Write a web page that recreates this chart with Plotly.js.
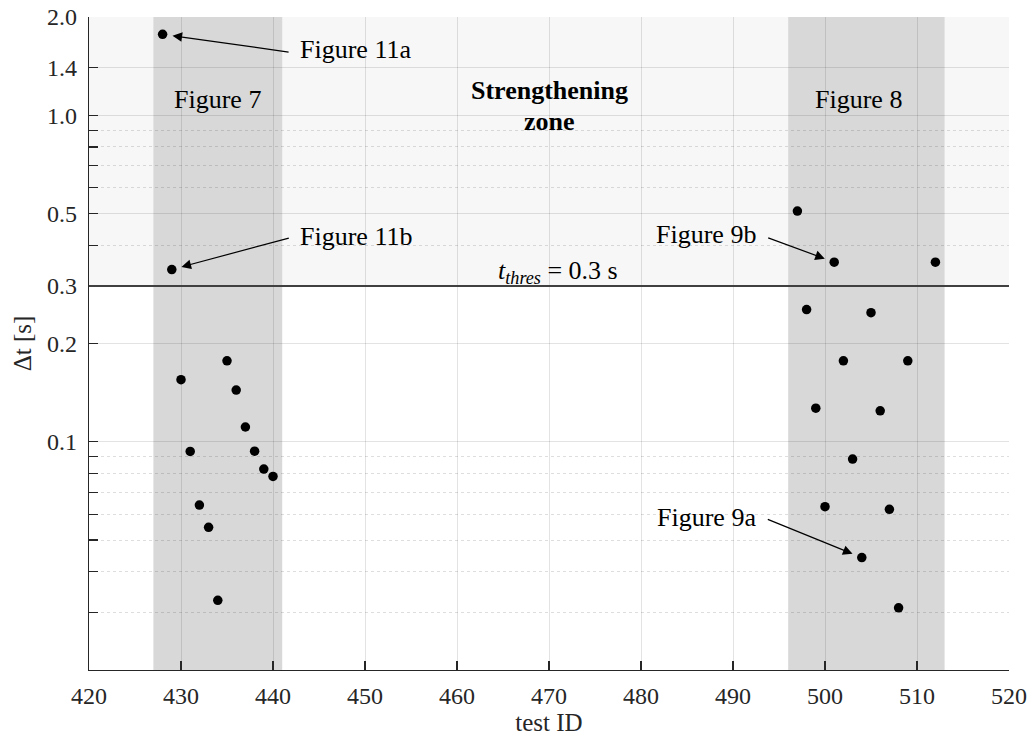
<!DOCTYPE html>
<html>
<head>
<meta charset="utf-8">
<script src="https://cdn.plot.ly/plotly-3.0.1.min.js"></script>
<style>html,body{margin:0;padding:0;background:#fff;}#chart{width:1033px;height:738px;}</style>
</head>
<body>
<div id="chart"></div>
<script>
// ---- data ----
const testId = [428,429,430,431,432,433,434,435,436,437,438,439,440,
                497,498,499,500,501,502,503,504,505,506,507,508,509,512];
const deltaT = [1.77,0.337,0.155,0.0934,0.064,0.0547,0.0327,0.177,0.144,0.111,0.0936,0.0825,0.0783,
                0.509,0.254,0.1267,0.0633,0.355,0.177,0.0885,0.0442,0.2486,0.1244,0.0621,0.031,0.177,0.355];
const tThres = 0.3;
const band7 = [427, 441];
const band8 = [496, 513];
const yTickVals = [0.1,0.2,0.3,0.5,1,1.4,2];
const yTickText = ["0.1","0.2","0.3","0.5","1.0","1.4","2.0"];
const yMinorVals = [0.03,0.04,0.05,0.06,0.07,0.08,0.09,0.4,0.6,0.7,0.8,0.9];
const yRange = [0.02, 2];
const xRange = [420, 520];
// annotated points: [label, index into arrays]
const arrowLabels = [["Figure 11a",0],["Figure 11b",1],["Figure 9b",17],["Figure 9a",20]];

const FONT = "Liberation Serif";
const AX = "#262626";

const trace = {
  x: testId, y: deltaT, type: "scatter", mode: "markers",
  marker: {color: "#000", size: 9.5}, hoverinfo: "x+y", showlegend: false
};

// arrow tail offsets (pixels) from each annotated point
const tailOffsets = [[128,18],[119,-32],[-68,-25],[-96,-39]];
const textPos = [[0.2902,0.9495],[0.2902,0.6646],[0.6707,0.6662],[0.6707,0.2343]];

const annotations = [];
arrowLabels.forEach((a,i)=>{
  const idx = a[1];
  annotations.push({
    x: testId[idx], y: Math.log10(deltaT[idx]), xref:"x", yref:"y",
    text:" ", showarrow:true, ax: tailOffsets[i][0], ay: tailOffsets[i][1],
    arrowhead:2, arrowsize:1.6, arrowwidth:1.2, arrowcolor:"#000", standoff:10,
    font:{size:2}
  });
  annotations.push({
    x: textPos[i][0], y: textPos[i][1], xref:"paper", yref:"paper",
    text: a[0], showarrow:false, xanchor:"center", yanchor:"middle",
    font:{family:FONT, size:26, color:"#000"}
  });
});
const plain = (x,y,text,size)=>({x:x,y:y,xref:"paper",yref:"paper",text:text,showarrow:false,
  xanchor:"center",yanchor:"middle",font:{family:FONT,size:size,color:"#000"}});
annotations.push(plain(0.1402,0.8729,"Figure 7",26));
annotations.push(plain(0.8359,0.8729,"Figure 8",26));
annotations.push(plain(0.5005,0.8878,"<b>Strengthening</b>",26));
annotations.push(plain(0.5005,0.8395,"<b>zone</b>",26));
annotations.push(plain(0.5098,0.6095,"<i>t</i><sub><i>thres</i></sub> = 0.3 s",26));

const layout = {
  width:1033, height:738,
  margin:{l:89, r:24, t:17, b:68},
  paper_bgcolor:"#fff", plot_bgcolor:"#fff",
  font:{family:FONT, color:AX, size:24},
  showlegend:false,
  xaxis:{
    range:xRange, dtick:10, tick0:420,
    ticks:"inside", ticklen:9, tickcolor:AX, tickwidth:1.2,
    showline:true, linecolor:AX, linewidth:1.3, mirror:false,
    showgrid:true, gridcolor:"rgba(0,0,0,0.11)", gridwidth:1,
    zeroline:false, ticklabelstandoff:4,
    tickfont:{family:FONT, size:24, color:AX},
    title:{text:"test ID", font:{family:FONT, size:25, color:AX}, standoff:5}
  },
  yaxis:{
    type:"log", range:[Math.log10(yRange[0]), Math.log10(yRange[1])],
    tickmode:"array", tickvals:yTickVals, ticktext:yTickText,
    ticks:"inside", ticklen:9, tickcolor:AX, tickwidth:1.2,
    showline:true, linecolor:AX, linewidth:1.3, mirror:false,
    showgrid:true, gridcolor:"rgba(0,0,0,0.11)", gridwidth:1,
    zeroline:false, ticklabelstandoff:6,
    tickfont:{family:FONT, size:24, color:AX},
    minor:{tickmode:"array", tickvals:yMinorVals, ticks:"inside", ticklen:9, tickcolor:AX, tickwidth:1.2,
      showgrid:true, gridcolor:"rgba(0,0,0,0.13)", griddash:"dot", gridwidth:1},
    title:{text:"Δt [s]", font:{family:FONT, size:25, color:AX}, standoff:8}
  },
  shapes:[
    {type:"rect", xref:"x", yref:"y", x0:xRange[0], x1:xRange[1], y0:tThres, y1:yRange[1], fillcolor:"#f7f7f7", line:{width:0}, layer:"below"},
    {type:"rect", xref:"x", yref:"y", x0:band7[0], x1:band7[1], y0:yRange[0], y1:yRange[1], fillcolor:"#d8d8d8", line:{width:0}, layer:"below"},
    {type:"rect", xref:"x", yref:"y", x0:band8[0], x1:band8[1], y0:yRange[0], y1:yRange[1], fillcolor:"#d8d8d8", line:{width:0}, layer:"below"},
    {type:"line", xref:"paper", yref:"y", x0:0, x1:1, y0:tThres, y1:tThres, line:{color:"#404040", width:2}, layer:"above"}
  ],
  annotations: annotations
};

Plotly.newPlot("chart", [trace], layout, {displayModeBar:false, staticPlot:true});
</script>
</body>
</html>
